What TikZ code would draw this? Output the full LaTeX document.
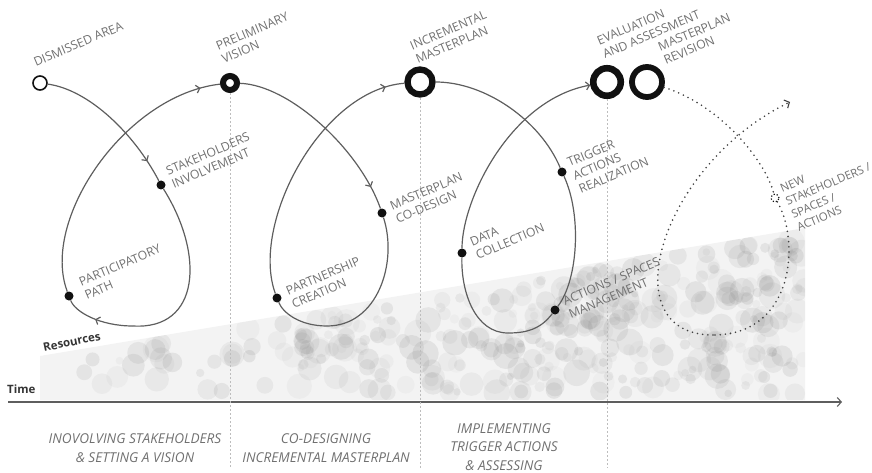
\documentclass[tikz,border=0pt]{standalone}
\usepackage{fontspec}
\setmainfont{Open Sans}
\usetikzlibrary{arrows.meta,decorations.markings}
\definecolor{ink}{HTML}{111111}
\definecolor{flowgray}{HTML}{5E5E5E}
\definecolor{labelgray}{HTML}{707070}
\definecolor{wedgefill}{HTML}{F3F3F3}
\definecolor{guidegray}{HTML}{BDBDBD}
\tikzset{
	milestone/.style = {circle, draw=ink, fill=white, inner sep=0pt},
	stepdot/.style = {circle, fill=ink, inner sep=0pt, minimum size=9pt},
	newmark/.style = {circle, draw=ink, dotted, line width=1.2pt, inner sep=0pt, minimum size=8pt},
	steplabel/.style = {font=\fontsize{12.2}{14.5}\selectfont, text=labelgray, align=left, rotate=23, anchor=south west, inner sep=0pt},
	phaselabel/.style = {font=\fontsize{13.6}{18.5}\selectfont\itshape, text=labelgray, align=center},
	axislabel/.style = {font=\fontsize{11.5}{14}\selectfont\bfseries, text=ink!85, inner sep=0pt},
	flow/.style = {draw=flowgray, line width=1.2pt},
	plan/.style = {draw=ink!80, line width=1.8pt, line cap=round, dash pattern=on 0pt off 5.2pt},
	guide/.style = {draw=guidegray, line width=0.8pt, dash pattern=on 2pt off 2pt},
	midarrow/.style = {postaction={decorate}, decoration={markings, mark=at position #1 with {\arrow{Straight Barb[length=3.5pt,width=8pt]}}}}
}

\begin{document}
\begin{tikzpicture}[x=1pt, y=-1pt]
	\useasboundingbox (0,0) rectangle (872,473);

	% resources wedge with bubbles
	\fill[wedgefill] (40,356) -- (805,228) -- (805,400) -- (40,400) -- cycle;
	\begin{scope}
		\clip (40,356) -- (805,228) -- (805,400) -- (40,400) -- cycle;
		\pgfmathsetseed{31}
		\foreach \i in {1,...,380}{
			\pgfmathsetmacro{\bx}{45+760*sqrt(rnd)}
			\pgfmathsetmacro{\br}{3.5+10*rnd}
			\pgfmathsetmacro{\by}{356-(\bx-40)*0.1673+6+(32+(\bx-40)*0.1673)*rnd}
			\pgfmathsetmacro{\bo}{0.04+0.11*rnd}
			\fill[gray, opacity=\bo] (\bx,\by) circle (\br pt);
		}
	\end{scope}

	% time axis
	\coordinate (t0) at (8,402);
	\coordinate (t1) at (842,402);
	\draw[flowgray, line width=1.1pt, -{Straight Barb[length=4pt,width=9pt]}] (t0) -- (t1);
	\node[axislabel, anchor=base west] (time) at (7,393) {Time};
	\node[axislabel, anchor=base west, rotate=12] (res) at (44,352) {Resources};

	% milestones
	\node[milestone, minimum size=14pt, line width=1.6pt] (da) at (40,83) {};
	\node[milestone, minimum size=14pt, line width=6pt] (pv) at (230,83) {};
	\node[milestone, minimum size=25pt, line width=6.3pt] (im) at (420,82) {};
	\node[milestone, minimum size=27.5pt, line width=6.6pt] (ev) at (607,82) {};
	\node[milestone, minimum size=30pt, line width=5.8pt] (mr) at (647,82) {};

	% guides
	\coordinate (gb) at (0,468);
	\draw[guide] (pv.south) -- (pv.south |- gb);
	\draw[guide] (im.south) -- (im.south |- gb);
	\draw[guide] (ev.south) -- (ev.south |- gb);

	% steps
	\node[stepdot] (stk) at (161,185) {};
	\node[stepdot] (ptp) at (69,296) {};
	\node[stepdot] (mcd) at (382,213) {};
	\node[stepdot] (pcr) at (277,298) {};
	\node[stepdot] (trg) at (562,172) {};
	\node[stepdot] (asm) at (555,310) {};
	\node[stepdot] (dat) at (462,253) {};
	\node[newmark] (nsk) at (775,198) {};
	\coordinate (lb1) at (133,326);
	\coordinate (lb2) at (327,326);
	\coordinate (lb3) at (508,333);
	\coordinate (lb4) at (713,335);
	\coordinate (arrend) at (790,102);

	% loop 1
	\draw[flow, midarrow=0.85] (da) .. controls (90,90) and (135,135) .. (stk);
	\draw[flow] (stk) .. controls (205,255) and (200,330) .. (lb1);
	\draw[flow, midarrow=0.55] (lb1) .. controls (100,326) and (75,312) .. (ptp);
	\draw[flow, midarrow=0.93] (ptp) .. controls (40,220) and (125,95) .. (pv);
	% loop 2
	\draw[flow, midarrow=0.88] (pv) .. controls (290,85) and (360,150) .. (mcd);
	\draw[flow] (mcd) .. controls (398,262) and (378,326) .. (lb2);
	\draw[flow] (lb2) .. controls (300,326) and (283,313) .. (pcr);
	\draw[flow, midarrow=0.93] (pcr) .. controls (250,225) and (320,90) .. (im);
	% loop 3
	\draw[flow] (im) .. controls (485,82) and (540,120) .. (trg);
	\draw[flow] (trg) .. controls (582,215) and (578,280) .. (asm);
	\draw[flow] (asm) .. controls (540,330) and (525,333) .. (lb3);
	\draw[flow] (lb3) .. controls (475,333) and (461,292) .. (dat);
	\draw[flow, -{Straight Barb[length=3.5pt,width=8pt]}] (dat) .. controls (462,200) and (510,100) .. (ev);
	% loop 4, to come
	\draw[plan] (mr) .. controls (720,105) and (765,160) .. (nsk);
	\draw[plan] (nsk) .. controls (800,240) and (795,335) .. (lb4);
	\draw[plan, -{Straight Barb[length=4pt,width=9pt,line width=1.1pt]}] (lb4) .. controls (610,335) and (660,165) .. (arrend);

	% labels
	\node[steplabel] (lda) at (36,67) {DISMISSED AREA};
	\node[steplabel] (lpv) at (224,64) {PRELIMINARY\\VISION};
	\node[steplabel] (lim) at (418,64) {INCREMENTAL\\MASTERPLAN};
	\node[steplabel] (lev) at (605,59) {EVALUATION\\AND ASSESSMENT};
	\node[steplabel] (lmr) at (666,65) {MASTERPLAN\\REVISION};
	\node[steplabel] (lstk) at (174,189) {STAKEHOLDERS\\INVOLVEMENT};
	\node[steplabel] (lptp) at (87,300) {PARTICIPATORY\\PATH};
	\node[steplabel] (lmcd) at (398,224) {MASTERPLAN\\CO-DESIGN};
	\node[steplabel] (lpcr) at (294,309) {PARTNERSHIP\\CREATION};
	\node[steplabel] (ldat) at (478,260) {DATA\\COLLECTION};
	\node[steplabel] (ltrg) at (581,194) {TRIGGER\\ACTIONS\\REALIZATION};
	\node[steplabel] (lasm) at (571,319) {ACTIONS / SPACES\\MANAGEMENT};
	\node[steplabel, font=\fontsize{11.4}{14.2}\selectfont] (lnsk) at (799,232) {NEW\\STAKEHOLDERS /\\SPACES /\\ACTIONS};

	% phases
	\node[phaselabel] (ph1) at (135,448) {INOVOLVING STAKEHOLDERS\\\& SETTING A VISION};
	\node[phaselabel] (ph2) at (326,448) {CO-DESIGNING\\INCREMENTAL MASTERPLAN};
	\node[phaselabel] (ph3) at (504,447) {IMPLEMENTING\\TRIGGER ACTIONS\\\& ASSESSING};
\end{tikzpicture}
\end{document}
